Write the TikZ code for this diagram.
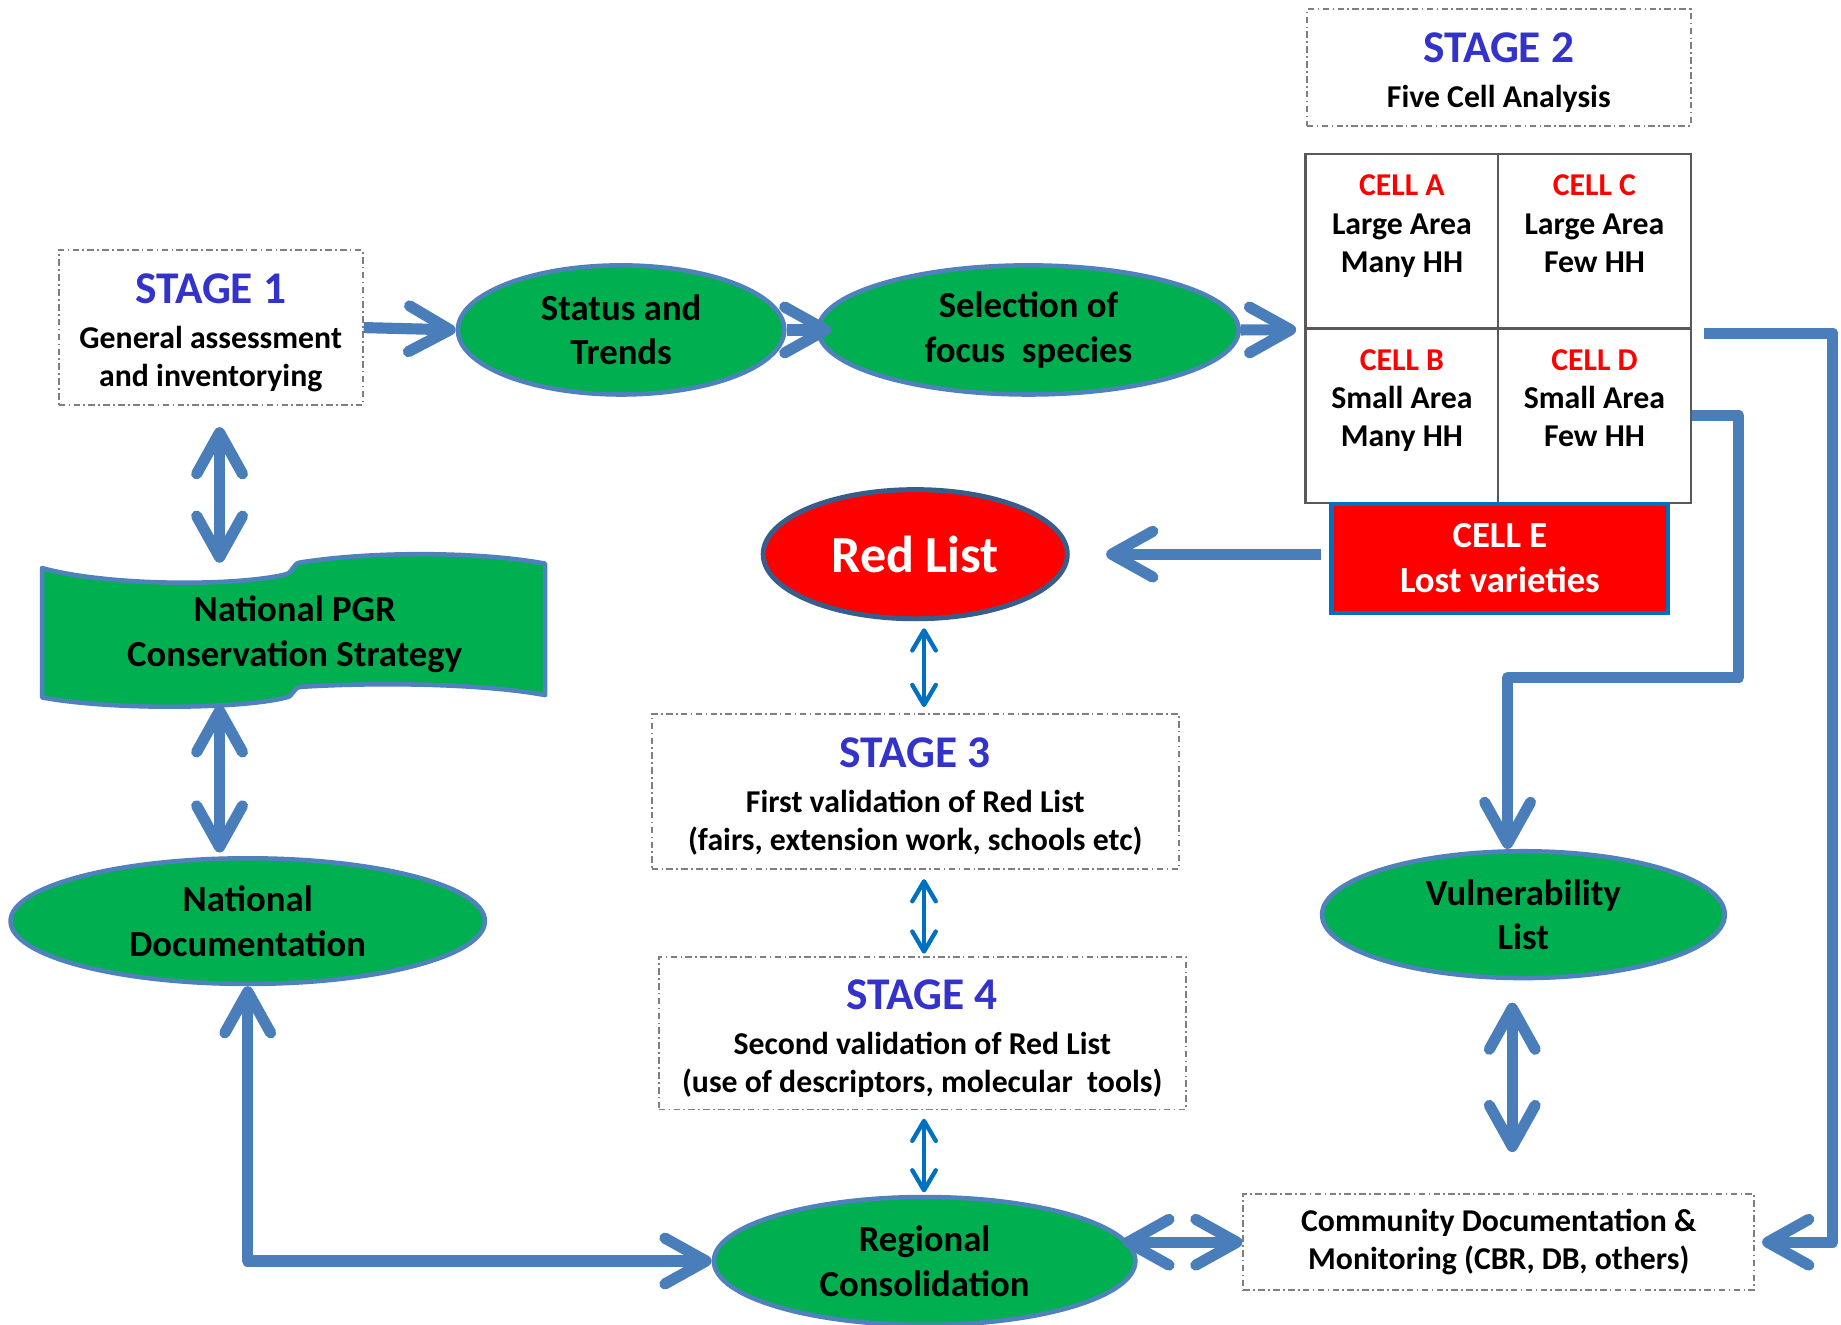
\documentclass[tikz,border=0pt]{standalone}
\usepackage{fontspec}
\setmainfont{Carlito}
\usepackage{tikz}
\usetikzlibrary{arrows.meta,positioning,shapes.geometric}
\definecolor{leafgreen}{HTML}{00B050}
\definecolor{edgeblue}{HTML}{4F81BD}
\definecolor{linkblue}{HTML}{4A7EBB}
\definecolor{thinblue}{HTML}{0070C0}
\definecolor{stageblue}{HTML}{3333CC}
\definecolor{cellred}{HTML}{FF0000}
\definecolor{redrim}{HTML}{385D8A}
\definecolor{dashgrey}{HTML}{7F7F7F}
\definecolor{gridgrey}{HTML}{595959}
\newcommand{\txtbody}{\fontsize{7.7}{9.3}\selectfont\bfseries}
\newcommand{\txtoval}{\fontsize{8.9}{10.8}\selectfont\bfseries}
\newcommand{\txtstage}{\fontsize{11}{12}\selectfont\bfseries\color{stageblue}}
\newcommand{\txtred}{\fontsize{12.6}{14}\selectfont\bfseries}
\newcommand{\stagehead}[1]{{\txtstage\rule{0pt}{9.8pt}#1}\\[1.5pt]}
\tikzset{
  stagebox/.style={draw=dashgrey,fill=white,line width=0.45pt,
                   dash pattern=on 1.6pt off 0.8pt on 0.4pt off 0.8pt,
                   align=center,inner sep=0pt,font=\txtbody},
  oval/.style={ellipse,draw=edgeblue,fill=leafgreen,line width=1.1pt,
               align=center,inner sep=0pt,font=\txtoval},
  redoval/.style={ellipse,draw=redrim,fill=cellred,line width=1.2pt,
                  text=white,inner sep=0pt,font=\txtred},
  cellbox/.style={draw=gridgrey,fill=white,line width=0.6pt,
                  minimum width=1.64cm,minimum height=1.485cm},
  celltext/.style={align=center,inner sep=0pt,font=\txtbody},
  losscell/.style={draw=thinblue,fill=cellred,line width=1pt,text=white,
                   align=center,inner sep=0pt,font=\txtoval},
  banner/.style={draw=edgeblue,fill=leafgreen,line width=1.1pt,line join=round},
  linkarr/.style={-{Straight Barb[length=3.5mm,width=3.9mm,round]},
                  line width=2.7pt,draw=linkblue,line join=round},
  linkdbl/.style={{Straight Barb[length=3.5mm,width=3.9mm,round]}-{Straight Barb[length=3.5mm,width=3.9mm,round]},
                  line width=2.7pt,draw=linkblue,line join=round},
  thinlink/.style={{Straight Barb[length=1.7mm,width=2mm,round]}-{Straight Barb[length=1.7mm,width=2mm,round]},
                   line width=1.05pt,draw=thinblue}
}
\begin{document}
\begin{tikzpicture}[x=1cm,y=1cm]
    \path[use as bounding box,fill=white] (0,0) rectangle (15.68,-11.28);
    % top row
    \node[stagebox,minimum width=2.59cm,minimum height=1.32cm] (stageone) at (1.795,-2.79)
      {\stagehead{STAGE 1}General assessment\\and inventorying};
    \node[oval,minimum width=2.78cm,minimum height=1.10cm] (status) at (5.29,-2.81)
      {Status and\\Trends};
    \node[oval,minimum width=3.58cm,minimum height=1.10cm] (select) at (8.76,-2.81)
      {Selection of\\focus\ \ species};
    \node[stagebox,minimum width=3.27cm,minimum height=0.99cm] (stagetwo) at (12.765,-0.575)
      {\stagehead{STAGE 2}Five Cell Analysis};
    \foreach \c/\xx/\yy/\tta/\ttb in {A/11.94/-2.055/Large Area/Many HH,
                                    C/13.58/-2.055/Large Area/Few HH,
                                    B/11.94/-3.54/Small Area/Many HH,
                                    D/13.58/-3.54/Small Area/Few HH}{
      \node[cellbox] (cell\c) at (\xx,\yy) {};
      \node[celltext,below=0.18 of cell\c.north] (txt\c)
        {\textcolor{cellred}{CELL \c}\\\tta\\\ttb};
    }
    \node[losscell,minimum width=2.87cm,minimum height=0.93cm] (cellE) at (12.775,-4.755)
      {CELL E\\Lost varieties};
    % middle column
    \node[redoval,minimum width=2.59cm,minimum height=1.10cm] (redlist) at (7.795,-4.72) {Red List};
    \node[stagebox,minimum width=4.49cm,minimum height=1.32cm] (stagethree) at (7.795,-6.74)
      {\stagehead{STAGE 3}First validation of Red List\\(fairs, extension work, schools etc)};
    \node[stagebox,minimum width=4.49cm,minimum height=1.30cm] (stagefour) at (7.855,-8.80)
      {\stagehead{STAGE 4}Second validation of Red List\\(use of descriptors, molecular\ \ tools)};
    \node[oval,minimum width=3.59cm,minimum height=1.09cm] (regional) at (7.875,-10.74)
      {Regional\\Consolidation};
    % right column
    \node[oval,minimum width=3.43cm,minimum height=1.08cm] (vuln) at (12.975,-7.79)
      {Vulnerability\\List};
    \node[stagebox,minimum width=4.35cm,minimum height=0.82cm] (community) at (12.765,-10.58)
      {Community Documentation \&\\Monitoring (CBR, DB, others)};
    % left column
    \path[banner] (0.358,-4.838) .. controls (0.95,-5.00) and (2.05,-4.99) .. (2.44,-4.89)
      .. controls (2.50,-4.87) and (2.49,-4.80) .. (2.56,-4.79)
      .. controls (3.2,-4.69) and (4.1,-4.70) .. (4.642,-4.80) -- (4.642,-5.92)
      .. controls (4.1,-5.82) and (3.2,-5.81) .. (2.56,-5.85)
      .. controls (2.49,-5.86) and (2.50,-5.93) .. (2.44,-5.94)
      .. controls (2.05,-6.04) and (0.95,-6.05) .. (0.358,-5.94) -- cycle;
    \node[align=center,inner sep=0pt,font=\txtoval,minimum height=1.2cm] (npgr) at (2.51,-5.40)
      {National PGR\\Conservation Strategy};
    \node[oval,minimum width=4.04cm,minimum height=1.07cm] (natdoc) at (2.11,-7.845)
      {National\\Documentation};
    % connectors
    \coordinate (colx) at (1.87,0);
    \coordinate (thinx) at (7.87,0);
    \coordinate (vulx) at (12.88,0);
    \coordinate (bendD) at (14.81,-5.77);
    \coordinate (outer) at (15.61,-10.58);
    \draw[linkarr] (stageone.east) -- (status.west);
    \draw[linkarr,shorten >=-1.3mm] (status.east) -- (select.west);
    \draw[linkarr,shorten >=0.7mm] (select.east) -- (cellA.south west);
    \draw[linkarr,shorten <=0.7mm,shorten >=3.1mm] (cellE.west |- redlist.east) -- (redlist.east);
    \draw[linkarr] (cellD.east) -| (bendD) -| ([xshift=-1.35mm]vuln.north);
    \draw[linkarr,shorten <=1mm,shorten >=0.6mm] ([yshift=-0.3mm]cellC.south east) -| (outer) -- (community.east);
    \draw[thinlink,shorten <=0.6mm,shorten >=0.5mm] (redlist.south -| thinx) -- (stagethree.north -| thinx);
    \draw[thinlink,shorten <=0.8mm,shorten >=0.2mm] (stagethree.south -| thinx) -- (stagefour.north -| thinx);
    \draw[thinlink,shorten <=0.7mm,shorten >=0.2mm] (stagefour.south -| thinx) -- (regional.north -| thinx);
    \draw[linkdbl,shorten <=1.8mm] (stageone.south -| colx) -- (npgr.north -| colx);
    \draw[linkdbl,shorten >=0.3mm] (npgr.south -| colx) -- (natdoc.north -| colx);
    \draw[linkdbl] (natdoc.south) |- (regional.west);
    \draw[linkdbl,shorten >=-1.3mm] (community.west) -- (community.west -| regional.east);
    \draw[linkdbl,shorten <=1.9mm,shorten >=3.5mm] (vuln.south -| vulx) -- (community.north -| vulx);
  \end{tikzpicture}
\end{document}
